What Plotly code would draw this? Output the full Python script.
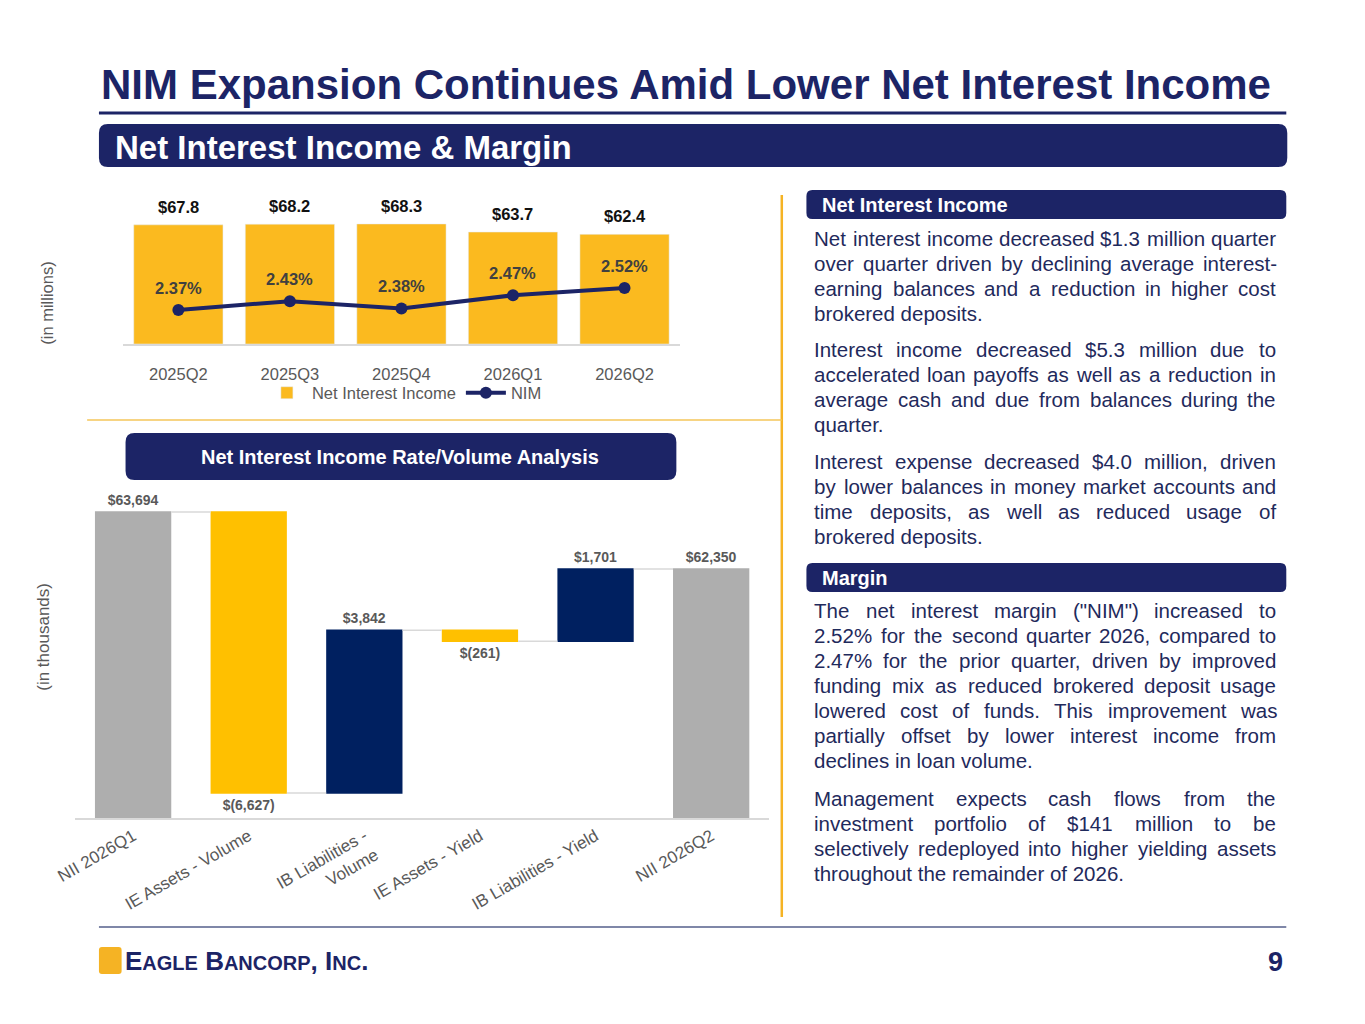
import plotly.graph_objects as go

W, H = 1365, 1024
OFF = 8  # the page adds an 8px body margin, so positions are measured from there

# top chart data (in millions)
quarters = ["2025Q2", "2025Q3", "2025Q4", "2026Q1", "2026Q2"]
nii = [67.8, 68.2, 68.3, 63.7, 62.4]
nim = [2.37, 2.43, 2.38, 2.47, 2.52]

# rate / volume waterfall (in thousands)
wf_cats = ["NII 2026Q1", "IE Assets - Volume", "IB Liabilities -<br>Volume",
           "IE Assets - Yield", "IB Liabilities - Yield", "NII 2026Q2"]
wf_vals = [63694, -6627, 3842, -261, 1701, 62350]
wf_measure = ["absolute", "relative", "relative", "relative", "relative", "absolute"]

# right hand text, line by line
p_nii_1 = ["Net interest income decreased $1.3 million quarter",
           "over quarter driven by declining average interest-",
           "earning balances and a reduction in higher cost",
           "brokered deposits."]
p_nii_2 = ["Interest income decreased $5.3 million due to",
           "accelerated loan payoffs as well as a reduction in",
           "average cash and due from balances during the",
           "quarter."]
p_nii_3 = ["Interest expense decreased $4.0 million, driven",
           "by lower balances in money market accounts and",
           "time deposits, as well as reduced usage of",
           "brokered deposits."]
p_m_1 = ["The net interest margin (\"NIM\") increased to",
         "2.52% for the second quarter 2026, compared to",
         "2.47% for the prior quarter, driven by improved",
         "funding mix as reduced brokered deposit usage",
         "lowered cost of funds. This improvement was",
         "partially offset by lower interest income from",
         "declines in loan volume."]
p_m_2 = ["Management expects cash flows from the",
         "investment portfolio of $141 million to be",
         "selectively redeployed into higher yielding assets",
         "throughout the remainder of 2026."]

NAVY = "#1C2466"
TXT = "#1F2A5C"
GRAY = "#595959"
YEL = "#FBBA1F"
FONT = "Liberation Sans, Arial, sans-serif"

# Arial / Liberation Sans advance widths (per 1000 em), used to justify the text
ARIAL = {" ": 278, "!": 278, '"': 355, "$": 556, "%": 889, "(": 333, ")": 333, ",": 278,
         "-": 333, ".": 278,
         "A": 667, "B": 667, "C": 722, "D": 722, "E": 667, "F": 611, "G": 778, "H": 722,
         "I": 278, "J": 500, "K": 667, "L": 556, "M": 833, "N": 722, "O": 778, "P": 667,
         "Q": 778, "R": 722, "S": 667, "T": 611, "U": 722, "V": 667, "W": 944, "X": 667,
         "Y": 667, "Z": 611,
         "a": 556, "b": 556, "c": 500, "d": 556, "e": 556, "f": 278, "g": 556, "h": 556,
         "i": 222, "j": 222, "k": 500, "l": 222, "m": 833, "n": 556, "o": 556, "p": 556,
         "q": 556, "r": 333, "s": 500, "t": 278, "u": 556, "v": 500, "w": 722, "x": 500,
         "y": 500, "z": 500}
for dgt in "0123456789":
    ARIAL[dgt] = 556


def text_w(s, size):
    return sum(ARIAL.get(ch, 556) for ch in s) * size / 1000


def px(x):
    return (x - OFF) / W


def py(y):
    return 1 - (y - OFF) / H


def rrect(x0, y0, x1, y1, r=8):
    # rounded rectangle path in paper coords from pixel box
    rx, ry = r / W, r / H
    a, b, c, d = px(x0), py(y1), px(x1), py(y0)
    return (f"M{a+rx},{b} L{c-rx},{b} Q{c},{b} {c},{b+ry} L{c},{d-ry} Q{c},{d} {c-rx},{d} "
            f"L{a+rx},{d} Q{a},{d} {a},{d-ry} L{a},{b+ry} Q{a},{b} {a+rx},{b} Z")


def paper_text(x, y, text, size, color, xanchor="left", **kw):
    return dict(x=px(x), y=py(y), xref="paper", yref="paper", xanchor=xanchor, yanchor="middle",
                text=text, showarrow=False, font=dict(size=size, color=color), **kw)


fig = go.Figure()

fig.add_trace(go.Bar(x=quarters, y=nii, name="Net Interest Income",
                     marker=dict(color=YEL), xaxis="x", yaxis="y"))
fig.add_trace(go.Scatter(x=quarters, y=nim, name="NIM", mode="lines+markers",
                         line=dict(color=NAVY, width=4), marker=dict(size=12, color=NAVY),
                         xaxis="x", yaxis="y2"))

wf_text = [f"$({abs(v):,})" if v < 0 else f"${v:,}" for v in wf_vals]
fig.add_trace(go.Waterfall(x=wf_cats, y=wf_vals, measure=wf_measure, text=wf_text,
                           textposition="outside", cliponaxis=False, showlegend=False,
                           textfont=dict(size=14, color=GRAY, family=FONT, weight="bold"),
                           increasing=dict(marker=dict(color="#002060")),
                           decreasing=dict(marker=dict(color="#FFC000")),
                           totals=dict(marker=dict(color="#AEAEAE")),
                           connector=dict(line=dict(color="#D9D9D9", width=1.5)),
                           xaxis="x3", yaxis="y3"))

ann = []
# bar value labels
for q, v in zip(quarters, nii):
    ann.append(dict(x=q, y=v, xref="x", yref="y", text=f"<b>${v:.1f}</b>", showarrow=False,
                    yshift=18, font=dict(size=16.5, color="#111111")))
for q, v in zip(quarters, nim):
    ann.append(dict(x=q, y=v, xref="x", yref="y2", text=f"<b>{v:.2f}%</b>", showarrow=False,
                    yshift=22, font=dict(size=16.5, color="#404040")))

ann.append(paper_text(27, 303, "(in millions)", 16.5, GRAY, xanchor="center", textangle=-90))
ann.append(paper_text(23, 637, "(in thousands)", 17, GRAY, xanchor="center", textangle=-90))

# headings
ann.append(paper_text(80, 84, "<b>NIM Expansion Continues Amid Lower Net Interest Income</b>", 42, NAVY))
ann.append(paper_text(94, 147, "<b>Net Interest Income & Margin</b>", 33, "white"))
ann.append(paper_text(386, 457, "<b>Net Interest Income Rate/Volume Analysis</b>", 20, "white",
                      xanchor="center"))
ann.append(paper_text(812, 205, "<b>Net Interest Income</b>", 20, "white"))
ann.append(paper_text(812, 578, "<b>Margin</b>", 20, "white"))

# body paragraphs, justified word by word except the last line
FS = 20.5
X_L, X_R = 804, 1272
for lines, top in [(p_nii_1, 238), (p_nii_2, 349), (p_nii_3, 461), (p_m_1, 610), (p_m_2, 798)]:
    for i, line in enumerate(lines):
        y = top + i * 25
        words = line.split(" ")
        if i == len(lines) - 1 or len(words) < 2:
            ann.append(paper_text(X_L, y, line, FS, TXT))
            continue
        ws = [text_w(w_, FS) for w_ in words]
        gap = (X_R - X_L - sum(ws)) / (len(words) - 1)
        x = X_L
        for w_, wd in zip(words, ws):
            ann.append(paper_text(x, y, w_, FS, TXT))
            x += wd + gap

# footer
ann.append(paper_text(104, 961,
                      "<b>E<span style='font-size:20px'>AGLE</span> B<span style='font-size:20px'>ANCORP</span>, I<span style='font-size:20px'>NC</span>.</b>",
                      26, NAVY))
ann.append(paper_text(1284, 962, "<b>9</b>", 27, NAVY, xanchor="right"))

shapes = [
    dict(type="line", xref="paper", yref="paper", x0=px(80), x1=px(1285), y0=py(113), y1=py(113),
         line=dict(color=NAVY, width=3)),
    dict(type="path", xref="paper", yref="paper", path=rrect(80, 124, 1286, 167, 9),
         fillcolor=NAVY, line=dict(width=0)),
    dict(type="path", xref="paper", yref="paper", path=rrect(798, 190, 1285, 219, 6),
         fillcolor=NAVY, line=dict(width=0)),
    dict(type="path", xref="paper", yref="paper", path=rrect(798, 563, 1285, 592, 6),
         fillcolor=NAVY, line=dict(width=0)),
    dict(type="path", xref="paper", yref="paper", path=rrect(107, 433, 666, 480, 9),
         fillcolor=NAVY, line=dict(width=0)),
    dict(type="line", xref="paper", yref="paper", x0=px(773), x1=px(773), y0=py(195), y1=py(917),
         line=dict(color="#F5B324", width=2.5)),
    dict(type="line", xref="paper", yref="paper", x0=px(68), x1=px(773), y0=py(420), y1=py(420),
         line=dict(color="#F5C65A", width=1.5)),
    dict(type="line", xref="paper", yref="paper", x0=px(80), x1=px(1285), y0=py(927), y1=py(927),
         line=dict(color="#7F87A8", width=2)),
    # logo mark
    dict(type="path", xref="paper", yref="paper", path=rrect(80, 947, 103, 974, 3),
         fillcolor="#F5B324", line=dict(width=0)),
]

fig.update_layout(
    width=W, height=H, margin=dict(l=0, r=0, t=0, b=0),
    paper_bgcolor="white", plot_bgcolor="white",
    font=dict(family=FONT, color=GRAY),
    bargap=0.2,
    showlegend=True,
    legend=dict(orientation="h", x=px(390), xanchor="center", y=py(393), yanchor="middle",
                font=dict(size=16.5, color=GRAY), itemwidth=40, bgcolor="rgba(0,0,0,0)"),
    xaxis=dict(domain=[px(104), px(670)], anchor="y", showline=True, linecolor="#D9D9D9",
               linewidth=1.5, tickfont=dict(size=16.5, color=GRAY), ticklabelstandoff=14,
               showgrid=False, fixedrange=True),
    yaxis=dict(domain=[py(344), py(203.4)], range=[0, 80], visible=False, showgrid=False),
    yaxis2=dict(overlaying="y", range=[2.138, 3.096], visible=False, showgrid=False),
    xaxis3=dict(domain=[px(56), px(760)], anchor="y3", showline=True, linecolor="#D9D9D9",
                linewidth=1.5, tickangle=-30, tickfont=dict(size=17, color=GRAY), showgrid=False),
    yaxis3=dict(domain=[py(818), py(494.8)], range=[56480, 64100], visible=False, showgrid=False),
    waterfallgap=0.34,
    annotations=ann,
    shapes=shapes,
)

fig.write_html("out.html")
